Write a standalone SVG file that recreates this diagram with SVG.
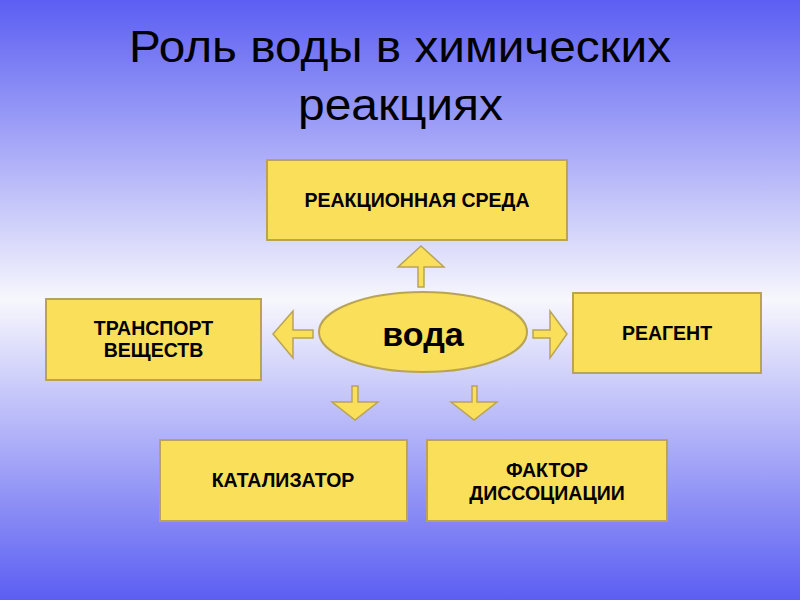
<svg xmlns="http://www.w3.org/2000/svg" width="800" height="600" viewBox="0 0 800 600">
<defs>
<linearGradient id="bg" x1="0" y1="0" x2="0" y2="1">
<stop offset="0" stop-color="#5b5ef2"/>
<stop offset="0.5" stop-color="#f7f7fd"/>
<stop offset="1" stop-color="#5b5ef2"/>
</linearGradient>
<style>
.box{fill:#f9df5a;stroke:#b9a455;stroke-width:2}
.arr{fill:#f9df5a;stroke:#b9a455;stroke-width:1.5;stroke-linejoin:miter}
.lbl{font-family:"Liberation Sans",Arial,sans-serif;font-weight:bold;font-size:19.5px;fill:#000;text-anchor:middle}
.title{font-family:"Liberation Sans",Arial,sans-serif;font-size:45px;fill:#000;text-anchor:middle}
</style>
</defs>
<rect width="800" height="600" fill="url(#bg)"/>
<g id="title">
<text class="title" x="400" y="62" textLength="542" lengthAdjust="spacingAndGlyphs">Роль воды в химических</text>
<text class="title" x="400.5" y="120" textLength="205" lengthAdjust="spacingAndGlyphs">реакциях</text>
</g>
<g id="connectors">
<polygon class="arr" points="421,246 444,267 424,267 424,287 418,287 418,267 398,267"/>
<polygon class="arr" points="273,334 293,311 293,330 313,330 313,338 293,338 293,358"/>
<polygon class="arr" points="567,334 550,311 550,330 533,330 533,338 550,338 550,358"/>
<polygon class="arr" points="352,386 358,386 358,402 378,402 355,420 332,402 352,402"/>
<polygon class="arr" points="472,386 477,386 477,402 497,402 474,420 451,402 472,402"/>
</g>
<g id="voda">
<ellipse class="box" cx="423" cy="332" rx="104" ry="40"/>
<text class="lbl" x="423" y="346" style="font-size:34px">вода</text>
</g>
<g id="sreda">
<rect class="box" x="267" y="160" width="300" height="80"/>
<text class="lbl" x="417" y="207">РЕАКЦИОННАЯ СРЕДА</text>
</g>
<g id="transport">
<rect class="box" x="46" y="299" width="215" height="81"/>
<text class="lbl" x="153.5" y="335">ТРАНСПОРТ</text>
<text class="lbl" x="153.5" y="357">ВЕЩЕСТВ</text>
</g>
<g id="reagent">
<rect class="box" x="573" y="293" width="188" height="80"/>
<text class="lbl" x="667" y="340">РЕАГЕНТ</text>
</g>
<g id="katalizator">
<rect class="box" x="160" y="440" width="247" height="81"/>
<text class="lbl" x="283" y="487">КАТАЛИЗАТОР</text>
</g>
<g id="faktor">
<rect class="box" x="427" y="440" width="240" height="81"/>
<text class="lbl" x="547" y="477">ФАКТОР</text>
<text class="lbl" x="547" y="500">ДИССОЦИАЦИИ</text>
</g>
</svg>
